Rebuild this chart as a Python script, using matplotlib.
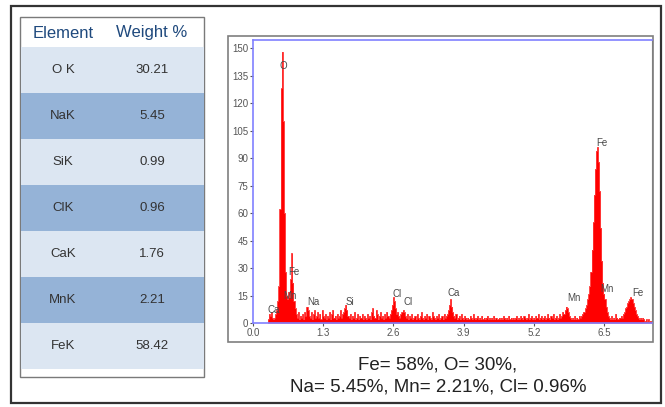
import matplotlib

matplotlib.use("Agg")
import matplotlib.pyplot as plt
import numpy as np
from matplotlib.patches import Rectangle

plt.rcParams["font.family"] = ["Liberation Sans", "DejaVu Sans"]

# EDS table
elements = ["O K", "NaK", "SiK", "ClK", "CaK", "MnK", "FeK"]
weights = ["30.21", "5.45", "0.99", "0.96", "1.76", "2.21", "58.42"]

# spectrum, 0.02 keV channels starting at 0.00 keV
channel_kev = 0.02
counts = [
    0, 0, 0, 0, 0, 0, 0, 0, 0, 0,
    0, 0, 0, 0, 2, 5, 4, 6, 3, 2,
    3, 5, 7, 12, 20, 62, 128, 148, 110, 60,
    28, 15, 13, 17, 14, 24, 38, 22, 12, 8,
    5, 3, 6, 2, 4, 3, 5, 2, 6, 4,
    9, 7, 4, 3, 6, 2, 5, 7, 3, 4,
    6, 3, 5, 2, 7, 4, 3, 5, 2, 4,
    3, 6, 2, 5, 7, 3, 4, 2, 5, 3,
    4, 7, 3, 5, 6, 8, 10, 7, 4, 3,
    5, 2, 4, 3, 6, 2, 3, 5, 2, 4,
    3, 5, 2, 4, 3, 2, 5, 3, 4, 2,
    6, 8, 4, 3, 7, 5, 2, 4, 6, 3,
    4, 2, 5, 3, 6, 4, 3, 5, 7, 10,
    14, 12, 8, 5, 6, 4, 3, 5, 6, 7,
    6, 4, 3, 5, 2, 4, 3, 5, 2, 3,
    4, 2, 5, 3, 2, 4, 6, 3, 2, 4,
    3, 5, 2, 4, 3, 2, 6, 4, 3, 2,
    4, 3, 5, 2, 3, 4, 2, 5, 3, 4,
    5, 7, 10, 13, 9, 6, 4, 3, 5, 2,
    3, 4, 2, 5, 3, 2, 4, 3, 2, 3,
    2, 4, 3, 2, 5, 3, 2, 3, 4, 2,
    3, 2, 4, 2, 3, 2, 3, 4, 2, 3,
    2, 3, 2, 4, 2, 3, 2, 2, 3, 2,
    3, 2, 4, 3, 2, 3, 2, 4, 2, 3,
    2, 3, 2, 3, 4, 2, 3, 2, 4, 3,
    2, 4, 3, 2, 3, 5, 2, 3, 4, 2,
    3, 2, 4, 3, 5, 2, 3, 4, 2, 3,
    4, 2, 3, 5, 3, 2, 4, 3, 5, 2,
    3, 4, 2, 3, 5, 3, 4, 6, 5, 7,
    9, 8, 6, 4, 3, 2, 3, 2, 4, 2,
    3, 2, 4, 3, 4, 5, 6, 6, 8, 10,
    13, 16, 20, 28, 40, 55, 70, 84, 94, 96,
    88, 72, 52, 34, 22, 16, 13, 9, 6, 4,
    3, 2, 4, 2, 3, 2, 5, 3, 2, 3,
    3, 4, 3, 5, 6, 8, 9, 11, 12, 13,
    14, 13, 11, 9, 7, 5, 4, 3, 2, 3,
    2, 3, 2, 1, 2, 1, 2, 1, 1, 1,
]

peak_names = ["O", "Fe", "Mn", "Ca", "Na", "Si", "Cl", "Cl", "Ca", "Mn", "Mn", "Fe", "Fe"]
peak_kev = [0.57, 0.76, 0.69, 0.39, 1.11, 1.80, 2.67, 2.87, 3.72, 5.94, 6.56, 6.46, 7.13]
peak_y = [140, 28, 15, 7, 11.5, 11.5, 16, 11.5, 16.5, 13.5, 18.5, 98, 16.5]

x_ticks = [0.0, 1.3, 2.6, 3.9, 5.2, 6.5]
y_ticks = list(range(0, 151, 15))

caption = ["Fe= 58%, O= 30%,", "Na= 5.45%, Mn= 2.21%, Cl= 0.96%"]

W, H = 665, 407
fig = plt.figure(figsize=(W / 100, H / 100), dpi=100)

# background canvas in pixel coords
bg = fig.add_axes([0, 0, 1, 1])
bg.set_xlim(0, W)
bg.set_ylim(H, 0)
bg.axis("off")

bg.add_patch(Rectangle((11, 6), 650, 397, fill=False, ec="#333333", lw=1.6))

# table
row_top, row_h = 47, 46
light, dark = "#dce6f2", "#95b3d7"
bg.add_patch(Rectangle((21, 18), 184, 360, fc="#b0b0b0", ec="none"))
bg.add_patch(Rectangle((20, 17), 184, 360, fc="white", ec="#7a7a7a", lw=1.0))
bg.text(63, 33, "Element", ha="center", va="center", fontsize=12, color="#1f497d")
bg.text(152, 33, "Weight %", ha="center", va="center", fontsize=12, color="#1f497d")
for i, (el, wt) in enumerate(zip(elements, weights)):
    y0 = row_top + i * row_h
    bg.add_patch(Rectangle((20.5, y0), 183, row_h, fc=dark if i % 2 else light, ec="none"))
    bg.text(63, y0 + row_h / 2, el, ha="center", va="center", fontsize=9.5, color="#333333")
    bg.text(152, y0 + row_h / 2, wt, ha="center", va="center", fontsize=9.5, color="#333333")

# chart frame
bg.add_patch(Rectangle((228, 36), 425, 306, fill=False, ec="#7f7f7f", lw=1.2))

for k, line in enumerate(caption):
    bg.text(438, 365 + k * 22, line, ha="center", va="center", fontsize=13.5, color="#222222")

# spectrum
ax = fig.add_axes([253 / W, (H - 323) / H, (652 - 253) / W, (323 - 40) / H])
energy = np.arange(len(counts)) * channel_kev
ax.fill_between(energy, counts, step="mid", color="#ff0000", lw=0)
ax.step(energy, counts, where="mid", color="#ff3030", lw=0.6)
ax.set_xlim(0, 7.39)
ax.set_ylim(0, 154.4)
ax.set_xticks(x_ticks)
ax.set_xticklabels([f"{t:.1f}" for t in x_ticks])
ax.set_yticks(y_ticks)
ax.tick_params(labelsize=7, colors="#555555", length=2, pad=1.5)
for side in ["left", "bottom", "top"]:
    ax.spines[side].set_color("#8080ff")
    ax.spines[side].set_linewidth(1.2)
ax.spines["right"].set_color("#7f7f7f")

for name, e, y in zip(peak_names, peak_kev, peak_y):
    ax.text(e, y, name, ha="center", va="center", fontsize=7, color="#4a4a4a")

fig.savefig("out.png", dpi=100)
